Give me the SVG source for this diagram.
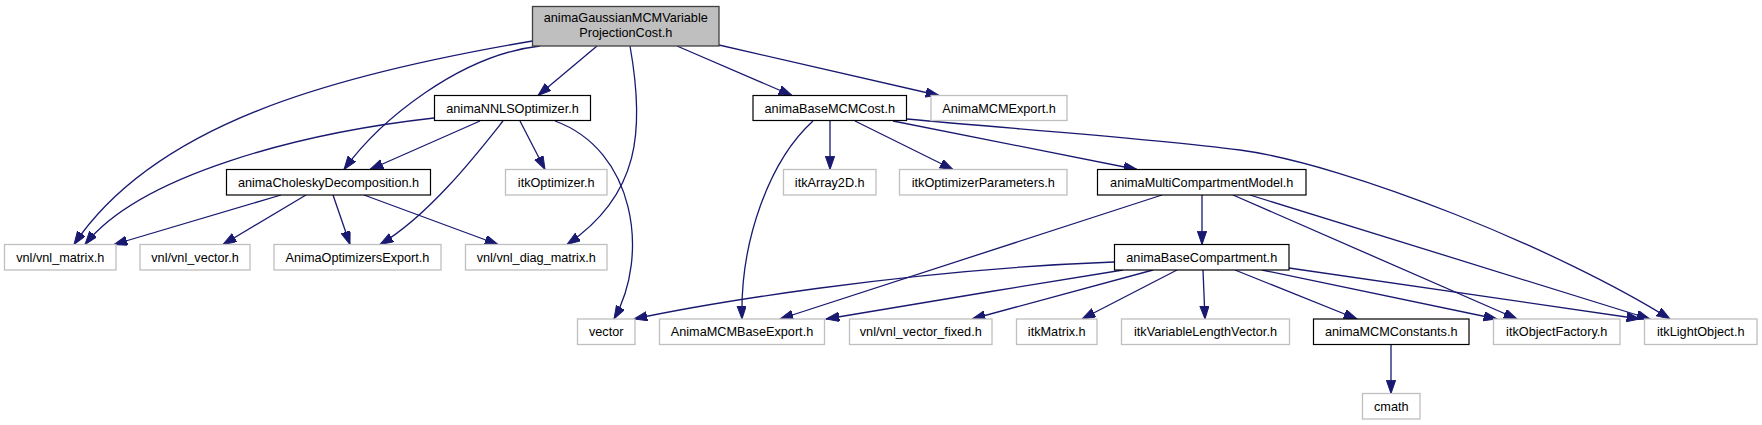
<svg xmlns="http://www.w3.org/2000/svg" width="1762" height="425" viewBox="0 0 1762 425">
<defs>
<style>
.n rect{fill:#fff;stroke:#000;stroke-width:1.2}
.g rect{fill:#fff;stroke:#bfbfbf;stroke-width:1.3}
.r rect{fill:#bfbfbf;stroke:#404040;stroke-width:1.3}
text{font-family:"Liberation Sans",Arial,Helvetica,sans-serif;font-size:12.7px;text-anchor:middle;fill:#000}
#edges path{fill:none;stroke:#191970;stroke-width:1.3;marker-end:url(#arr)}
</style>
<marker id="arr" markerUnits="userSpaceOnUse" markerWidth="14" markerHeight="10" refX="13.3" refY="4.65" orient="auto">
<path d="M0,0 L13.3,4.65 L0,9.3 z" fill="#191970" stroke="#191970" stroke-width="1"/>
</marker>
</defs>
<rect width="1762" height="425" fill="#fff"/>
<g id="edges">
<path d="M532.5,41 C332,75 155,124 74,244.5"/>
<path d="M540,46 C460,55 380,120 344,169.5"/>
<path d="M597,46 L538,95.5"/>
<path d="M630,46 C645,130 640,195 567,244.5"/>
<path d="M677,46 L792,95.5"/>
<path d="M719,45 L939,95.5"/>
<path d="M434,118 C300,133 140,175 85,244.5"/>
<path d="M480,121 L370,169.5"/>
<path d="M503,121 C480,150 430,215 380,244.5"/>
<path d="M520,121 L545,169.5"/>
<path d="M555,121 C635,150 650,255 614,319"/>
<path d="M281,195 L114,244.5"/>
<path d="M306,195 L223,244.5"/>
<path d="M333,195 L350,244.5"/>
<path d="M364,195 L498,244.5"/>
<path d="M813,121 C770,160 740,240 742,319"/>
<path d="M830,121 L830,169.5"/>
<path d="M855,121 L953,169.5"/>
<path d="M893,121 L1137,169.5"/>
<path d="M907,119 C1000,128 1150,138 1240,150 C1350,165 1560,250 1670,319"/>
<path d="M1162,195 L780,319"/>
<path d="M1202,195 L1202,244.5"/>
<path d="M1233,195 L1517,319"/>
<path d="M1250,195 L1650,319"/>
<path d="M1114,262 C900,270 700,305 634,319"/>
<path d="M1123,270 C1040,283 880,310 826,319"/>
<path d="M1153,270 L972,319"/>
<path d="M1177,270 L1082,319"/>
<path d="M1203,270 L1205,319"/>
<path d="M1235,270 L1357,319"/>
<path d="M1262,270 L1497,319"/>
<path d="M1289,268 L1640,319"/>
<path d="M1391,345 L1391,393.5"/>
</g>
<g id="node-root" class="r"><rect x="532.5" y="6.5" width="186.5" height="39.5"/><text x="625.75" y="22">animaGaussianMCMVariable</text><text x="625.75" y="36.5">ProjectionCost.h</text></g>
<g id="node-nnls" class="n"><rect x="434.5" y="95.5" width="156" height="25"/><text x="512.5" y="112.5">animaNNLSOptimizer.h</text></g>
<g id="node-basemcmcost" class="n"><rect x="753" y="95.5" width="153.5" height="25"/><text x="829.75" y="112.5">animaBaseMCMCost.h</text></g>
<g id="node-mcmexport" class="g"><rect x="931" y="95.5" width="136" height="25"/><text x="999" y="112.5">AnimaMCMExport.h</text></g>
<g id="node-cholesky" class="n"><rect x="226.5" y="169.5" width="204" height="25.5"/><text x="328.5" y="186.5">animaCholeskyDecomposition.h</text></g>
<g id="node-itkoptimizer" class="g"><rect x="505.5" y="169.5" width="101.5" height="25.5"/><text x="556.25" y="186.5">itkOptimizer.h</text></g>
<g id="node-itkarray2d" class="g"><rect x="783.5" y="169.5" width="92.5" height="25.5"/><text x="829.75" y="186.5">itkArray2D.h</text></g>
<g id="node-itkoptparams" class="g"><rect x="899.5" y="169.5" width="167.5" height="25.5"/><text x="983.25" y="186.5">itkOptimizerParameters.h</text></g>
<g id="node-mcm" class="n"><rect x="1097.5" y="169.5" width="208.5" height="25.5"/><text x="1201.75" y="186.5">animaMultiCompartmentModel.h</text></g>
<g id="node-vnlmatrix" class="g"><rect x="4.5" y="244.5" width="111.5" height="25.5"/><text x="60.25" y="261.5">vnl/vnl_matrix.h</text></g>
<g id="node-vnlvector" class="g"><rect x="140" y="244.5" width="110" height="25.5"/><text x="195" y="261.5">vnl/vnl_vector.h</text></g>
<g id="node-optexport" class="g"><rect x="274" y="244.5" width="167" height="25.5"/><text x="357.5" y="261.5">AnimaOptimizersExport.h</text></g>
<g id="node-vnldiag" class="g"><rect x="465.5" y="244.5" width="141.5" height="25.5"/><text x="536.25" y="261.5">vnl/vnl_diag_matrix.h</text></g>
<g id="node-basecomp" class="n"><rect x="1114.5" y="244.5" width="174.5" height="25.5"/><text x="1201.75" y="261.5">animaBaseCompartment.h</text></g>
<g id="node-vector" class="g"><rect x="577.5" y="319" width="57.5" height="25.5"/><text x="606.25" y="336">vector</text></g>
<g id="node-mcmbaseexport" class="g"><rect x="659.5" y="319" width="165" height="25.5"/><text x="742" y="336">AnimaMCMBaseExport.h</text></g>
<g id="node-vnlvecfixed" class="g"><rect x="849.5" y="319" width="142.5" height="25.5"/><text x="920.75" y="336">vnl/vnl_vector_fixed.h</text></g>
<g id="node-itkmatrix" class="g"><rect x="1016.5" y="319" width="80.5" height="25.5"/><text x="1056.75" y="336">itkMatrix.h</text></g>
<g id="node-itkvlv" class="g"><rect x="1121.5" y="319" width="168" height="25.5"/><text x="1205.5" y="336">itkVariableLengthVector.h</text></g>
<g id="node-mcmconstants" class="n"><rect x="1313.5" y="319" width="155.5" height="25.5"/><text x="1391.25" y="336">animaMCMConstants.h</text></g>
<g id="node-itkobjfactory" class="g"><rect x="1493.5" y="319" width="126.5" height="25.5"/><text x="1556.75" y="336">itkObjectFactory.h</text></g>
<g id="node-itklightobject" class="g"><rect x="1644.5" y="319" width="112.5" height="25.5"/><text x="1700.75" y="336">itkLightObject.h</text></g>
<g id="node-cmath" class="g"><rect x="1362.5" y="393.5" width="57.5" height="25.5"/><text x="1391.25" y="410.5">cmath</text></g>
</svg>
